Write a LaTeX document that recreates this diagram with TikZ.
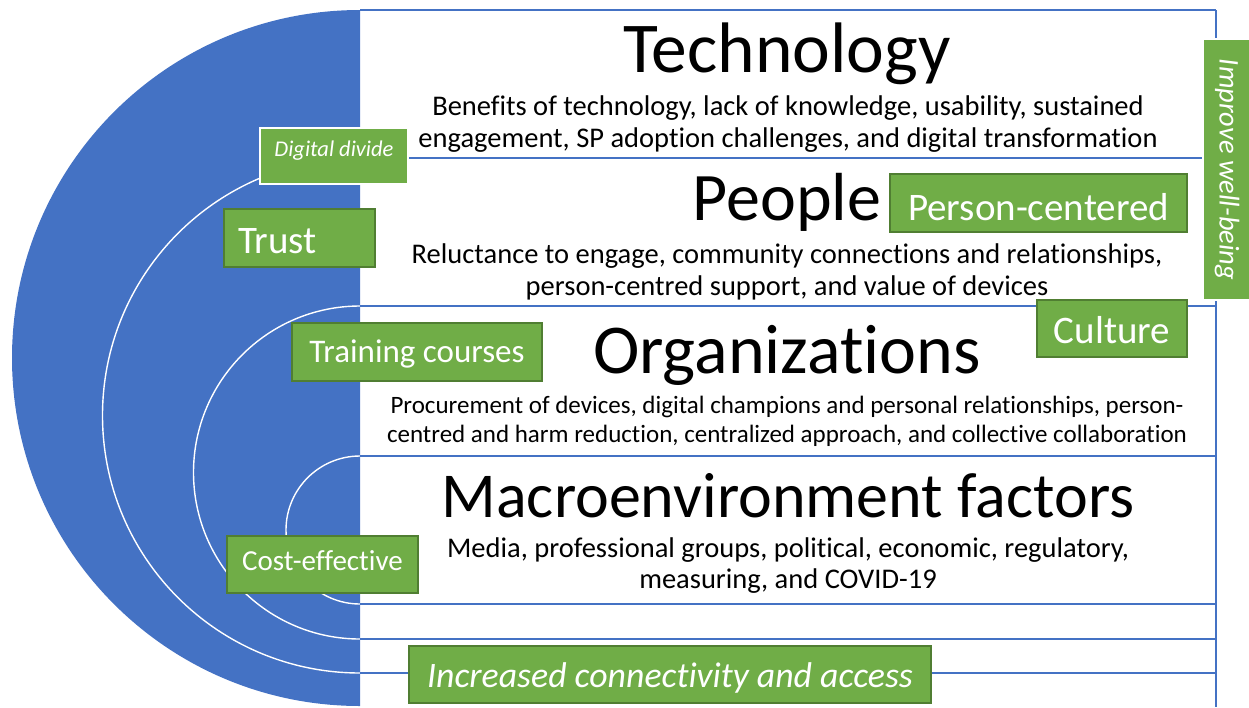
\documentclass[tikz,border=0pt]{standalone}
\usepackage{fontspec}
\setmainfont{Carlito}[Ligatures=NoCommon]
\usepackage{tikz}

\definecolor{ofblue}{HTML}{4472C4}
\definecolor{ofgreen}{HTML}{70AD47}
\definecolor{ofdkgreen}{HTML}{507E32}
\newcommand{\fsz}[1]{\fontsize{#1}{#1}\selectfont}

\begin{document}
\begin{tikzpicture}[x=1pt,y=-1pt,
    rule/.style={ofblue,line width=1.1pt},
    ring/.style={white,line width=1.4pt},
    greenbox/.style={fill=ofgreen,draw=ofdkgreen,line width=1.3pt,text=white,inner sep=0pt},
    whitebox/.style={greenbox,draw=white,line width=2.5pt},
    txtdrop/.style={text height=#1,text depth=0pt},
    head/.style={anchor=base,inner sep=0pt},
    body/.style={anchor=base,inner sep=0pt,font=\fsz{28.5}}]
    \useasboundingbox (0,0) rectangle (1249,707);

    % blue half disc with the white rings
    \fill[ofblue] (360,10) arc[start angle=270,end angle=90,radius=348] -- cycle;
    \draw[ring] (360,158) arc[start angle=270,end angle=90,radius=257.5];
    \draw[ring] (360,306) arc[start angle=270,end angle=90,radius=166.5];
    \draw[ring] (360,456) arc[start angle=270,end angle=90,radius=74];

    % thin rules on the right
    \foreach \y in {10,158,306,456,604,639,673}
      \draw[rule] (360,\y) -- (1216,\y);
    \draw[rule] (1216,10) -- (1216,707);

    % headings and their text
    \node[head,font=\fsz{71.5}] (tech) at (787,72) {Technology};
    \node[body] (techa) at (788,115) {Benefits of technology, lack of knowledge, usability, sustained};
    \node[body] (techb) at (788,147) {engagement, SP adoption challenges, and digital transformation};
    \node[head,font=\fsz{68}] (people) at (787,220) {People};
    \node[body] (peoplea) at (787,263) {Reluctance to engage, community connections and relationships,};
    \node[body] (peopleb) at (787,295) {person-centred support, and value of devices};
    \node[head,font=\fsz{70}] (org) at (787,373) {Organizations};
    \node[body,font=\fsz{25}] (orga) at (787,413) {Procurement of devices, digital champions and personal relationships, person-};
    \node[body,font=\fsz{25}] (orgb) at (787,442) {centred and harm reduction, centralized approach, and collective collaboration};
    \node[head,font=\fsz{64}] (macro) at (788,517) {Macroenvironment factors};
    \node[body] (macroa) at (788,557) {Media, professional groups, political, economic, regulatory,};
    \node[body] (macrob) at (788,588) {measuring, and COVID-19};

    % green labels
    \node[whitebox,minimum width=148pt,minimum height=56pt,txtdrop=0pt,font=\fsz{22.5}\itshape] (divide) at (334,156) {Digital divide};
    \node[greenbox,minimum width=151pt,minimum height=58pt,txtdrop=30pt,text width=123pt,align=left,font=\fsz{39}] (trust) at (299.5,238) {Trust};
    \node[greenbox,minimum width=297pt,minimum height=58pt,txtdrop=34pt,font=\fsz{39}] (person) at (1038.5,203) {Person-centered};
    \node[whitebox,rotate=-90,minimum width=261pt,minimum height=48pt,font=\fsz{28.5}\itshape] (wellbeing) at (1227,169.5) {Improve well-being};
    \node[greenbox,minimum width=150pt,minimum height=57pt,txtdrop=29pt,font=\fsz{39}] (culture) at (1112,328.5) {Culture};
    \node[greenbox,minimum width=250pt,minimum height=58pt,txtdrop=20pt,font=\fsz{33}] (training) at (417,352) {Training courses};
    \node[greenbox,minimum width=191pt,minimum height=57pt,txtdrop=11pt,font=\fsz{29}] (cost) at (322.5,564.5) {Cost-effective};
    \node[greenbox,minimum width=522pt,minimum height=57pt,txtdrop=25pt,font=\fsz{35.8}\itshape] (access) at (670,674.5) {Increased connectivity and access};
\end{tikzpicture}
\end{document}
